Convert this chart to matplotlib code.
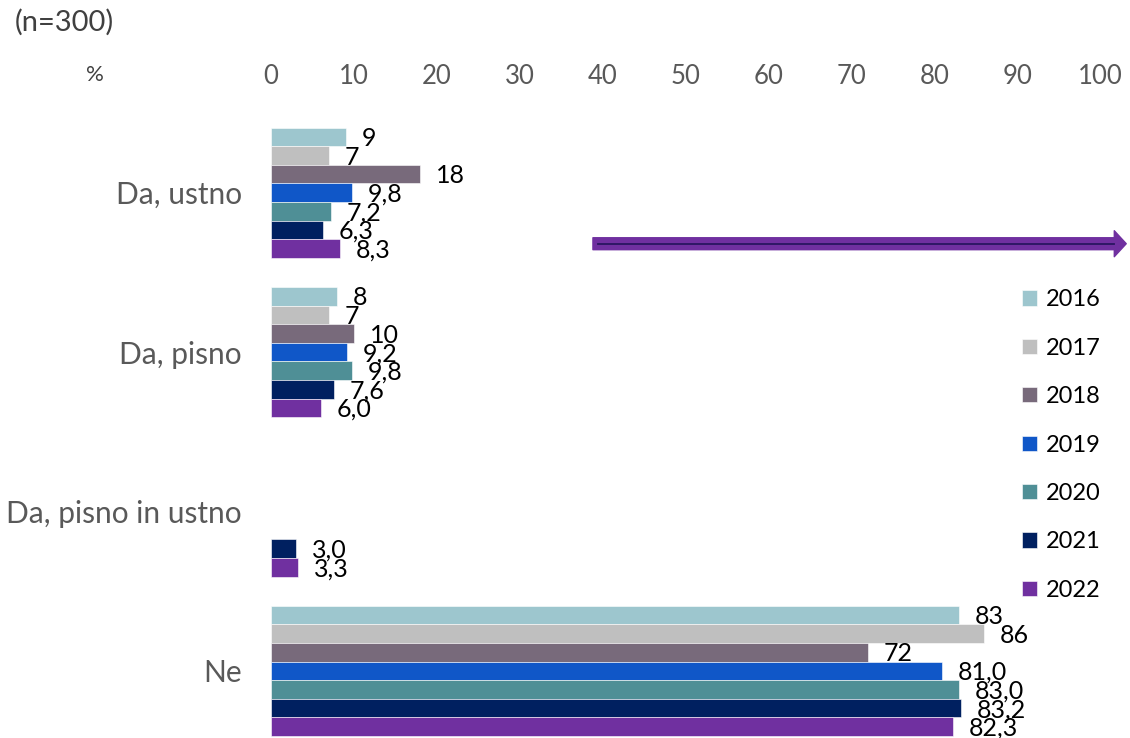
import numpy as np
import matplotlib
matplotlib.use('Agg')
import matplotlib.pyplot as plt
from matplotlib.patches import FancyArrowPatch

plt.rcParams['font.family'] = ['Lato', 'DejaVu Sans']

# data
categories = ['Da, ustno', 'Da, pisno', 'Da, pisno in ustno', 'Ne']
years = ['2016', '2017', '2018', '2019', '2020', '2021', '2022']
colors = ['#9DC6CE', '#BFBFBF', '#786A7B', '#1057C8', '#4F8F96', '#002060', '#7030A0']

v2016 = [9, 8, np.nan, 83]
v2017 = [7, 7, np.nan, 86]
v2018 = [18, 10, np.nan, 72]
v2019 = [9.8, 9.2, np.nan, 81.0]
v2020 = [7.2, 9.8, np.nan, 83.0]
v2021 = [6.3, 7.6, 3.0, 83.2]
v2022 = [8.3, 6.0, 3.3, 82.3]
series = [v2016, v2017, v2018, v2019, v2020, v2021, v2022]
xticks = list(range(0, 101, 10))

fig = plt.figure(figsize=(11.3, 7.38), dpi=100)
ax = fig.add_axes([271 / 1130, 0, 829 / 1130, 1 - 113 / 738])

h = 0.1167
y = np.arange(len(categories))
for i, (yr, vals, c) in enumerate(zip(years, series, colors)):
    pos = y + (i - 3) * h
    ax.barh(pos, vals, height=h, color=c, edgecolor='white', linewidth=0.4, label=yr)
    for p, v in zip(pos, vals):
        if np.isnan(v):
            continue
        txt = f'{v:.0f}' if int(yr) < 2019 else f'{v:.1f}'.replace('.', ',')
        ax.text(v + 1.9, p + 0.01, txt, va='center', ha='left', fontsize=18, color='black')

ax.set_xlim(0, 100)
ax.set_ylim(3 + 67 / 159.3, -0.5)
ax.set_yticks(y)
ax.set_yticklabels(categories)
ax.set_xticks(xticks)
ax.xaxis.tick_top()
ax.tick_params(axis='x', length=0, pad=17, labelsize=18.5, labelcolor='#595959')
ax.tick_params(axis='y', length=0, pad=21, labelsize=21.5, labelcolor='#595959')
for s in ax.spines.values():
    s.set_visible(False)

# arrow
arr = FancyArrowPatch((38.5, 0.32), (103.5, 0.32),
                      arrowstyle='simple,head_length=8.6,head_width=18.7,tail_width=8.6',
                      mutation_scale=1, color='#7030A0', clip_on=False)
ax.add_patch(arr)
ax.plot([39.4, 101.7], [0.32, 0.32], color='#2A1660', lw=1.3, clip_on=False)

fig.text(15 / 1130, 1 - 22 / 738, '(n=300)', fontsize=21, color='#404040', va='center', ha='left')
fig.text(95 / 1130, 1 - 75 / 738, '%', fontsize=16, color='#404040', va='center', ha='center')

fig.legend(loc='center left', bbox_to_anchor=(1022 / 1130, 1 - 445 / 738), frameon=False,
           fontsize=17, handlelength=0.62, handleheight=0.62, handletextpad=0.4,
           labelspacing=1.16, borderpad=0, borderaxespad=0)

fig.savefig('out.png', dpi=100)
